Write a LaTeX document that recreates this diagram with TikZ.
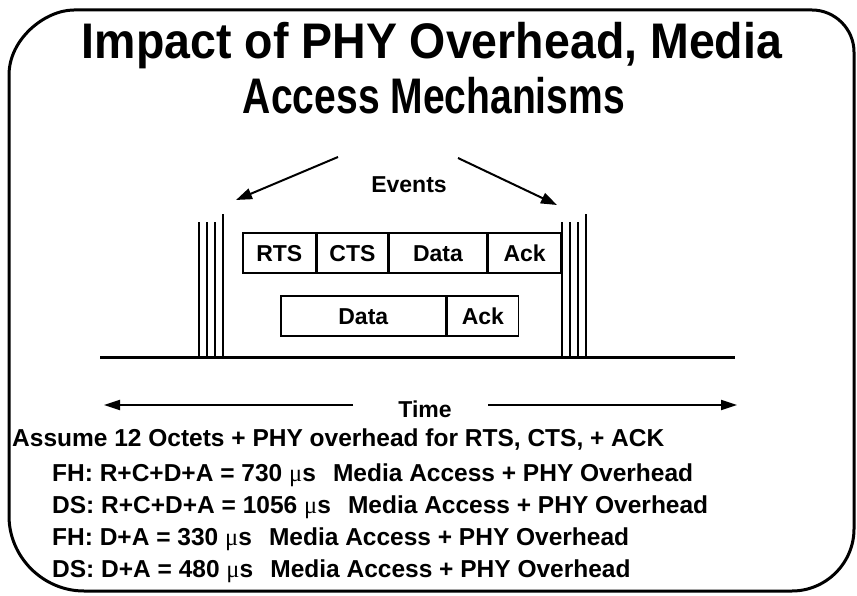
\documentclass[tikz,border=0pt]{standalone}
\usepackage{fontspec}
\usepackage{graphicx}
\setmainfont{Liberation Sans}
\newfontfamily\symfont{Liberation Serif}
\newfontfamily\titlefont[FakeStretch=0.93]{Liberation Sans}
\usetikzlibrary{arrows.meta,positioning}

\newcommand{\usec}{{\symfont\mdseries μ}s}
\newcommand{\gap}{\hspace{0.7em}}

\tikzset{
  frame/.style={line width=3pt,line join=round},
  pkt/.style={draw,line width=1.6pt,minimum height=40pt,inner sep=0pt,
    text height=16.5pt,text depth=0pt,
    font=\fontsize{23}{26}\selectfont\bfseries},
  tick/.style={line width=1.7pt},
  evarrow/.style={-{Triangle[length=16pt,width=11pt]},line width=2pt},
  timearrow/.style={-{Triangle[length=16pt,width=10pt]},line width=2pt},
  ttl/.style={anchor=base,inner sep=0pt,font=\titlefont\fontsize{50}{60}\selectfont\bfseries},
  txt/.style={anchor=base west,inner sep=0pt,font=\fontsize{24.5}{28}\selectfont\bfseries},
  lbl/.style={anchor=base,inner sep=0pt,font=\fontsize{23}{26}\selectfont\bfseries},
}

\begin{document}
\begin{tikzpicture}[x=1pt,y=-1pt]
  \useasboundingbox (0,0) rectangle (857,596);
  % outer frame
  \draw[frame] (9,300) -- (9,75) .. controls (9,39) and (45,10) .. (74,10)
    -- (812,10) .. controls (835,10) and (854,29) .. (854,52)
    -- (854,529) .. controls (854,563) and (826,591) .. (792,591)
    -- (84,591) .. controls (43,591) and (9,557) .. (9,516) -- cycle;

  % title
  \node[ttl] (title1) at (432,59) {Impact of PHY Overhead, Media};
  \node[ttl] (title2) at (434,114) {\scalebox{0.84}[1]{Access Mechanisms}};

  % events
  \node[lbl] (events) at (409,193) {Events};
  \coordinate (evl-s) at (338,157);
  \coordinate (evl-e) at (236,200);
  \coordinate (evr-s) at (458,158);
  \coordinate (evr-e) at (557,205);
  \draw[evarrow] (evl-s) -- (evl-e);
  \draw[evarrow] (evr-s) -- (evr-e);

  % packets
  \node[pkt,minimum width=73pt,anchor=north west] (rts) at (242,232) {RTS};
  \node[pkt,minimum width=70pt,right=0pt of rts] (cts) {CTS};
  \node[pkt,minimum width=98pt,right=0pt of cts] (data1) {Data};
  \node[pkt,minimum width=72pt,right=0pt of data1] (ack1) {Ack};
  \node[pkt,minimum width=165pt,anchor=north west] (data2) at (280,295) {Data};
  \node[pkt,minimum width=71pt,right=0pt of data2] (ack2) {Ack};

  % time axis and event ticks
  \draw[line width=3pt] (100,357) -- (735,357);
  \foreach \x/\t in {199/222,207/222,215/222,223/214,562/222,570/222,578/222,586/214}
    \draw[tick] (\x,357) -- (\x,\t);

  % time
  \node[lbl] (time) at (425,417) {Time};
  \coordinate (tl-s) at (353,405);
  \coordinate (tl) at (104,405);
  \coordinate (tr-s) at (488,405);
  \coordinate (tr) at (737,405);
  \draw[timearrow] (tl-s) -- (tl);
  \draw[timearrow] (tr-s) -- (tr);

  % assumptions
  \node[txt] (assume) at (12,446) {Assume 12 Octets + PHY overhead for RTS, CTS, + ACK};
  \node[txt] (fh1) at (52,481) {FH: R+C+D+A = 730 \usec\gap Media Access + PHY Overhead};
  \node[txt] (ds1) at (52,513) {DS: R+C+D+A = 1056 \usec\gap Media Access + PHY Overhead};
  \node[txt] (fh2) at (52,545) {FH: D+A = 330 \usec\gap Media Access + PHY Overhead};
  \node[txt] (ds2) at (52,577) {DS: D+A = 480 \usec\gap Media Access + PHY Overhead};
\end{tikzpicture}
\end{document}
